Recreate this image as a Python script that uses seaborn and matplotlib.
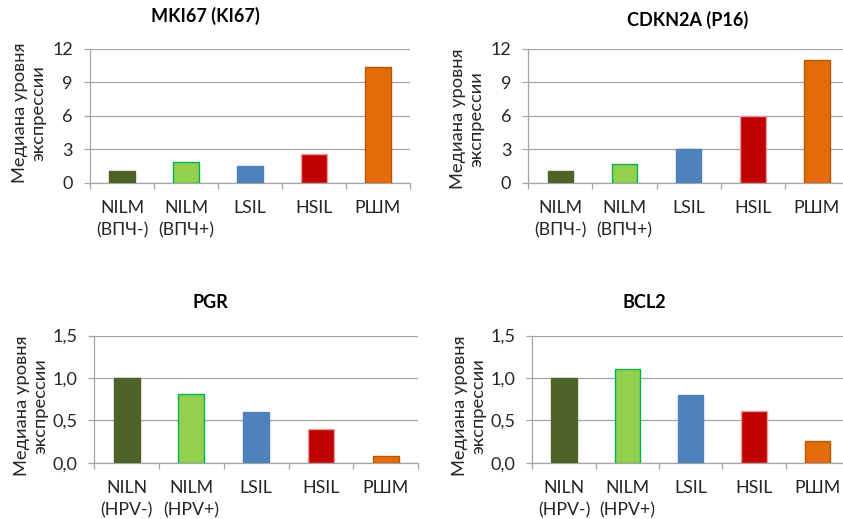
import matplotlib
matplotlib.use("Agg")
import matplotlib.pyplot as plt
import seaborn as sns
import numpy as np

# ---- data ----
cats_top = ["NILM\n(ВПЧ-)", "NILM\n(ВПЧ+)", "LSIL", "HSIL", "РШМ"]
cats_bot = ["NILN\n(HPV-)", "NILM\n(HPV+)", "LSIL", "HSIL", "РШМ"]
mki67 = [1.05, 1.82, 1.5, 2.57, 10.35]
cdkn2a = [1.05, 1.68, 3.0, 6.0, 11.0]
pgr = [1.0, 0.81, 0.6, 0.4, 0.08]
bcl2 = [1.0, 1.1, 0.8, 0.61, 0.255]
titles = ["MKI67 (KI67)", "CDKN2A (P16)", "PGR", "BCL2"]
yticks_top = [0, 3, 6, 9, 12]
ytick_labels_top = ["0", "3", "6", "9", "12"]
yticks_bot = [0.0, 0.5, 1.0, 1.5]
ytick_labels_bot = ["0,0", "0,5", "1,0", "1,5"]
ylabel = "Медиана уровня\nэкспрессии"

colors = ["#4F6228", "#92D050", "#4F81BD", "#C00000", "#E36C09"]
edges = ["#4F6228", "#00B050", "#4F81BD", "#E6A0A0", "#B65708"]

sns.set_theme(style="white")
plt.rcParams["font.family"] = ["Lato", "DejaVu Sans"]

W, H = 843, 519
fig = plt.figure(figsize=(W / 100, H / 100), dpi=100)

def px_axes(left, right, top, bottom):
    return fig.add_axes([left / W, 1 - bottom / H, (right - left) / W, (bottom - top) / H])

grey = "#A6A6A6"
txt = "#262626"

specs = [
    dict(box=(90, 410, 48.5, 182.7), cats=cats_top, vals=mki67, yt=yticks_top, ytl=ytick_labels_top,
         ylim=(0, 12), title=titles[0], tpos=(205, 15.5), lpos=(29, 113)),
    dict(box=(528.3, 849, 48.5, 182.7), cats=cats_top, vals=cdkn2a, yt=yticks_top, ytl=ytick_labels_top,
         ylim=(0, 12), title=titles[1], tpos=(687.5, 20), lpos=(467, 119)),
    dict(box=(94.3, 418, 335.5, 462.7), cats=cats_bot, vals=pgr, yt=yticks_bot, ytl=ytick_labels_bot,
         ylim=(0, 1.5), title=titles[2], tpos=(210, 303), lpos=(31, 406)),
    dict(box=(532.3, 849, 335.5, 462.7), cats=cats_bot, vals=bcl2, yt=yticks_bot, ytl=ytick_labels_bot,
         ylim=(0, 1.5), title=titles[3], tpos=(644, 303), lpos=(469, 406)),
]

for s in specs:
    l, r, t, b = s["box"]
    ax = px_axes(l, r, t, b)
    sns.barplot(x=s["cats"], y=s["vals"], hue=s["cats"], palette=colors, width=0.4,
                saturation=1, legend=False, ax=ax, zorder=3)
    for p, ec in zip(ax.patches, edges):
        p.set_edgecolor(ec)
        p.set_linewidth(1.0)
    ax.set_xlim(-0.5, 4.5)
    ax.set_ylim(*s["ylim"])
    ax.set_yticks(s["yt"])
    ax.set_yticklabels(s["ytl"])
    ax.yaxis.grid(True, color=grey, linewidth=0.9, zorder=0)
    ax.set_axisbelow(True)
    for side in ["top", "right"]:
        ax.spines[side].set_visible(False)
    for side in ["left", "bottom"]:
        ax.spines[side].set_color(grey)
        ax.spines[side].set_linewidth(0.9)
    ax.tick_params(axis="y", which="major", length=4.3, width=0.9, color=grey,
                   pad=8, labelsize=13, labelcolor=txt, left=True)
    ax.set_xticks(np.arange(5))
    ax.set_xticks(np.arange(-0.5, 5.0, 1.0), minor=True)
    ax.tick_params(axis="x", which="major", length=0, pad=12.5, labelsize=12.8, labelcolor=txt)
    ax.tick_params(axis="x", which="minor", length=4.3, width=0.9, color=grey, bottom=True)
    for lab in ax.get_xticklabels():
        lab.set_linespacing(1.48)
    ax.set_xlabel("")
    ax.set_ylabel("")
    fig.text(s["tpos"][0] / W, 1 - s["tpos"][1] / H, s["title"], ha="center", va="center",
             fontsize=13, fontweight="bold", color="black")
    fig.text(s["lpos"][0] / W, 1 - s["lpos"][1] / H, ylabel, ha="center", va="center",
             rotation=90, fontsize=13.2, color=txt, multialignment="center", linespacing=1.2)

fig.savefig("out.png", dpi=100, facecolor="white")
